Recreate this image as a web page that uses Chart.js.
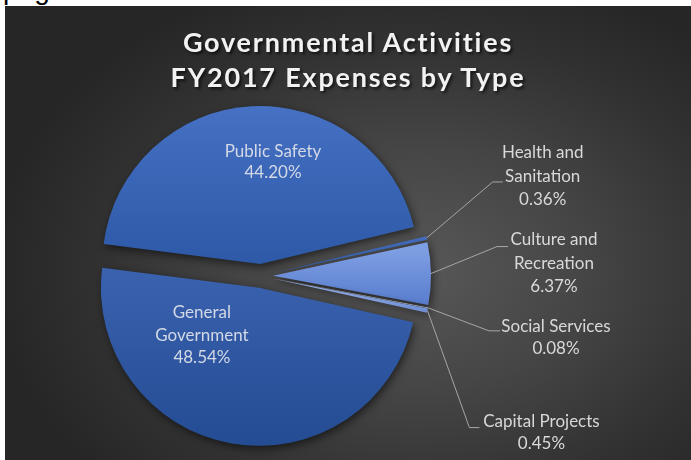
<!DOCTYPE html>
<html><head><meta charset="utf-8">
<script src="https://cdn.jsdelivr.net/npm/chart.js@4.4.0/dist/chart.umd.min.js"></script>
<style>
html,body{margin:0;padding:0;background:#fff;width:691px;height:460px;overflow:hidden;position:relative;}
#frag{position:absolute;left:3px;top:-24px;font:28px "Liberation Sans",Arial,sans-serif;line-height:28px;color:#000;white-space:nowrap;}
#panel{position:absolute;left:5px;top:6px;width:686px;height:454px;overflow:hidden;
 background:radial-gradient(ellipse 62% 68% at 60% 58%, #585858 0%, #454545 40%, #313131 75%, #262626 100%);}
#title{position:absolute;left:0;top:18px;width:686px;text-align:center;color:#f2f2f2;font:bold 27px Lato,"Open Sans",sans-serif;line-height:35px;letter-spacing:1.8px;text-shadow:2px 2px 3px rgba(0,0,0,0.65);}
#wrap{position:absolute;left:0;top:0;width:686px;height:454px;}
</style></head>
<body>
<div id="frag">page</div>
<div id="panel">
 <div id="wrap"><canvas id="c" width="686" height="454"></canvas></div>
 <div id="title">Governmental Activities<br>FY2017 Expenses by Type</div>
</div>
<script>
// ---- data ----
const categories = ['Public Safety', 'Health and Sanitation', 'Culture and Recreation', 'Social Services', 'Capital Projects', 'General Government'];
const percentValues = [44.20, 0.36, 6.37, 0.08, 0.45, 48.54];
const labelLines = [['Public Safety'], ['Health and', 'Sanitation'], ['Culture and', 'Recreation'], ['Social Services'], ['Capital Projects'], ['General', 'Government']];

// ---- styles ----
const sliceGradients = [
  ['#4671c4', '#2b57a5'],
  ['#4a72c4', '#2a55a2'],
  ['#7e9ee2', '#5b7fd0'],
  ['#dfe6f6', '#a9bce8'],
  ['#9fb5e8', '#5f82cf'],
  ['#3961ae', '#244c93']
];
const gradientSpan = [[-1.08, 0.0], [-0.3, 0.05], [-0.16, 0.16], [0.0, 0.3], [0.0, 0.3], [0.0, 1.08]];
const PIE_RADIUS = 158;
const EXPLODE = 12;
const labelStyle = [
  {inside: true, shift: 10.2, frac: 0.65, lineGap: 21},
  {elbow: [66, -56], run: 10, textDx: 40, firstDy: -29, lineGap: 23.5},
  {elbow: [66, -27], run: 11, textDx: 46, firstDy: -7, lineGap: 23.5},
  {elbow: [61, 23], run: 11, textDx: 56, firstDy: -4, lineGap: 22},
  {elbow: [42, 117], run: 10, textDx: 62, firstDy: -6, lineGap: 22},
  {inside: true, shift: 40.2, frac: 0.47, lineGap: 22.5}
];

const explodePlugin = {
  id: 'explode',
  afterUpdate(chart) {
    chart.getDatasetMeta(0).data.forEach(arc => {
      const mid = (arc.startAngle + arc.endAngle) / 2;
      arc.x += Math.cos(mid) * EXPLODE;
      arc.y += Math.sin(mid) * EXPLODE;
    });
  }
};

const shadowPlugin = {
  id: 'sliceShadow',
  beforeDatasetsDraw(chart) {
    const ctx = chart.ctx;
    ctx.save();
    ctx.shadowColor = 'rgba(0,0,0,0.55)';
    ctx.shadowBlur = 8;
    ctx.shadowOffsetX = 2;
    ctx.shadowOffsetY = 3;
  },
  afterDatasetsDraw(chart) { chart.ctx.restore(); }
};

const labelPlugin = {
  id: 'sliceLabels',
  afterDraw(chart) {
    const ctx = chart.ctx;
    const meta = chart.getDatasetMeta(0);
    ctx.save();
    ctx.font = '17px Lato, "Open Sans", sans-serif';
    ctx.textAlign = 'center';
    ctx.textBaseline = 'middle';
    meta.data.forEach((arc, i) => {
      const st = labelStyle[i];
      const lines = labelLines[i].concat([percentValues[i].toFixed(2) + '%']);
      const mid = (arc.startAngle + arc.endAngle) / 2;
      if (st.inside) {
        const a = mid + st.shift * Math.PI / 180;
        const r = arc.outerRadius * st.frac;
        const cx = arc.x + Math.cos(a) * r;
        const cy = arc.y + Math.sin(a) * r;
        ctx.fillStyle = '#d3d9e6';
        const y0 = cy - (lines.length - 1) * st.lineGap / 2;
        lines.forEach((t, k) => ctx.fillText(t, cx, y0 + k * st.lineGap));
      } else {
        const ex = arc.x + Math.cos(mid) * arc.outerRadius;
        const ey = arc.y + Math.sin(mid) * arc.outerRadius;
        const bx = ex + st.elbow[0], by = ey + st.elbow[1];
        ctx.strokeStyle = '#a6a6a6';
        ctx.lineWidth = 1;
        ctx.beginPath();
        ctx.moveTo(ex, ey);
        ctx.lineTo(bx, by);
        ctx.lineTo(bx + st.run, by);
        ctx.stroke();
        ctx.fillStyle = '#d9d9d9';
        const tx = bx + st.run + st.textDx;
        lines.forEach((t, k) => ctx.fillText(t, tx, by + st.firstDy + k * st.lineGap));
      }
    });
    ctx.restore();
  }
};

new Chart(document.getElementById('c'), {
  type: 'pie',
  data: {
    labels: categories,
    datasets: [{
      data: percentValues,
      borderWidth: 0,
      hoverOffset: 0,
      backgroundColor(context) {
        const chart = context.chart;
        const area = chart.chartArea;
        const i = context.dataIndex;
        if (!area) return sliceGradients[i][1];
        const cy = (area.top + area.bottom) / 2;
        const g = chart.ctx.createLinearGradient(0, cy + gradientSpan[i][0] * PIE_RADIUS, 0, cy + gradientSpan[i][1] * PIE_RADIUS);
        g.addColorStop(0, sliceGradients[i][0]);
        g.addColorStop(1, sliceGradients[i][1]);
        return g;
      }
    }]
  },
  options: {
    responsive: false,
    animation: false,
    events: [],
    rotation: -82.7,
    radius: PIE_RADIUS,
    layout: {padding: {left: 0, right: 174, top: 86, bottom: 0}},
    plugins: {legend: {display: false}, title: {display: false}, tooltip: {enabled: false}}
  },
  plugins: [explodePlugin, shadowPlugin, labelPlugin]
});
</script>
</body></html>
